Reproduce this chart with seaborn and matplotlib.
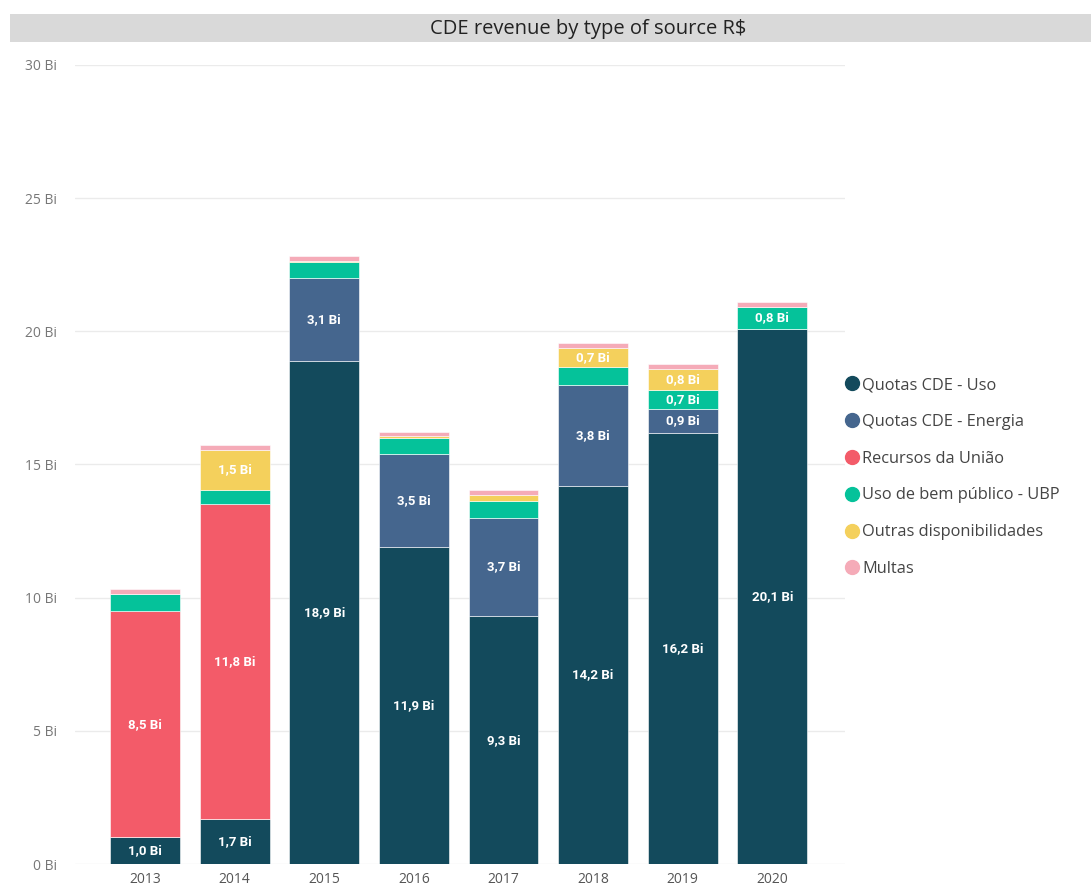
import matplotlib
matplotlib.use("Agg")
import matplotlib.pyplot as plt
from matplotlib.patches import Rectangle
from matplotlib.lines import Line2D
import seaborn as sns
import numpy as np
import pandas as pd

years = ['2013', '2014', '2015', '2016', '2017', '2018', '2019', '2020']
series_names = ['Quotas CDE - Uso', 'Quotas CDE - Energia', 'Recursos da União',
                'Uso de bem público - UBP', 'Outras disponibilidades', 'Multas']
uso = [1.0, 1.7, 18.9, 11.9, 9.3, 14.2, 16.2, 20.1]
energia = [0.0, 0.0, 3.1, 3.5, 3.7, 3.8, 0.9, 0.0]
uniao = [8.5, 11.8, 0.0, 0.0, 0.0, 0.0, 0.0, 0.0]
ubp = [0.65, 0.56, 0.6, 0.6, 0.64, 0.66, 0.7, 0.8]
outras = [0.0, 1.5, 0.05, 0.07, 0.23, 0.7, 0.8, 0.0]
multas = [0.19, 0.19, 0.18, 0.15, 0.19, 0.21, 0.17, 0.2]
colors = ['#134A5C', '#45668E', '#F35B69', '#05C29A', '#F4D05C', '#F5ABB8']
y_ticks = [0, 5, 10, 15, 20, 25, 30]

series = [uso, energia, uniao, ubp, outras, multas]

sns.set_style("white")
plt.rcParams['font.family'] = ['Open Sans', 'DejaVu Sans']

fig = plt.figure(figsize=(10.91, 8.89), dpi=100)
ax = fig.add_axes([75/1091, 1-864/889, (845-75)/1091, (864-65)/889])

bottom = np.zeros(len(years))
for name, vals, col in zip(series_names, series, colors):
    vals = np.array(vals, dtype=float)
    sns.barplot(x=years, y=vals, bottom=bottom, color=col, width=0.78,
                saturation=1, edgecolor='#FFFFFF', linewidth=0.4, ax=ax)
    for i, v in enumerate(vals):
        if v >= 0.7:
            ax.text(i, bottom[i] + v/2, f"{v:.1f}".replace('.', ',') + " Bi",
                    ha='center', va='center', color='white', fontsize=9.5,
                    fontweight='bold', family=['Roboto', 'DejaVu Sans'])
    bottom += vals

ax.set_ylim(0, 30)
ax.set_xlim(-0.78, 7.81)
ax.set_yticks(y_ticks)
ax.set_yticklabels([f"{t} Bi" for t in y_ticks], color='#777777', fontsize=10)
ax.tick_params(axis='y', length=0, pad=13)
ax.tick_params(axis='x', length=0, pad=6, labelsize=10, labelcolor='#555555')
ax.yaxis.grid(True, color='#EBEBEB', linewidth=1)
ax.set_axisbelow(True)
for s in ax.spines.values():
    s.set_visible(False)
ax.set_xlabel('')
ax.set_ylabel('')

# title bar
fig.patches.append(Rectangle((10/1091, 1-42/889), 1-10/1091, 28/889,
                             transform=fig.transFigure, facecolor='#D9D9D9',
                             edgecolor='none', zorder=0))
fig.text(588/1091, 1-29/889, 'CDE revenue by type of source R$', ha='center',
         va='center', fontsize=14.5, color='#222222')

handles = [Line2D([0], [0], marker='o', linestyle='none', markersize=10,
                  markerfacecolor=c, markeredgecolor=c) for c in colors]
fig.legend(handles, series_names, loc='upper left',
           bbox_to_anchor=(844/1091, 1-377/889), frameon=False,
           fontsize=11.8, labelcolor='#444444', handletextpad=0.1,
           handlelength=1.0, labelspacing=1.27, borderpad=0, borderaxespad=0)

fig.savefig('out.png', dpi=100)
